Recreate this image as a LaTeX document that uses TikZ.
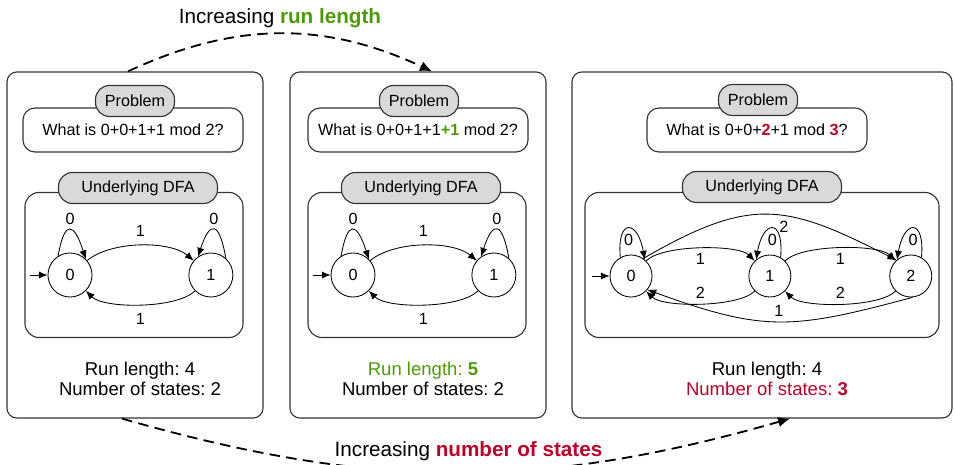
\documentclass[tikz,border=0pt]{standalone}
\usepackage{fontspec}
\setmainfont{Liberation Sans}
\usetikzlibrary{arrows.meta,positioning}
\definecolor{rungreen}{RGB}{78,154,6}
\definecolor{statered}{RGB}{190,0,40}
\frenchspacing

\begin{document}
\begin{tikzpicture}[x=0.025cm,y=-0.025cm,
  >={Latex[length=2.2mm,width=1.8mm]},
  panel/.style={draw=black!80,line width=0.8pt,rounded corners=0.25cm,minimum width=6.4cm,minimum height=8.65cm},
  probbox/.style={draw=black!80,line width=0.8pt,fill=white,rounded corners=0.3cm,minimum width=5.5cm,minimum height=1.1cm,font=\fontsize{11.5}{13}\selectfont},
  dfabox/.style={draw=black!80,line width=0.8pt,rounded corners=0.35cm,minimum width=5.45cm,minimum height=3.625cm},
  tag/.style={draw=black!80,line width=0.8pt,fill=black!15,rounded corners=0.35cm,minimum height=0.775cm,font=\fontsize{11.5}{13}\selectfont},
  state/.style={circle,draw,line width=0.6pt,minimum size=1.1cm,inner sep=0pt,font=\fontsize{11.5}{13}\selectfont},
  edge/.style={->,line width=0.6pt},
  lbl/.style={font=\fontsize{11.5}{13}\selectfont},
  flow/.style={->,>={Latex[length=3mm,width=2.6mm]},line width=1.3pt,dash pattern=on 7.5pt off 4.5pt},
  stats/.style={align=center,font=\fontsize{13.2}{14.2}\selectfont},
  head/.style={font=\fontsize{14.7}{16}\selectfont}]
\useasboundingbox (0,0) rectangle (954,465);

% the three cases
\node[panel] (p1) at (135,245) {};
\node[panel] (p2) at (418,245) {};
\node[panel,minimum width=9.5cm] (p3) at (762,245) {};

\node[probbox] (q1) at (133,130) {What is 0+0+1+1 mod 2?};
\node[tag,minimum width=1.975cm] (t1) at (135,101) {Problem};
\node[probbox] (q2) at (418,130) {What is 0+0+1+1\textbf{\color{rungreen}+1} mod 2?};
\node[tag,minimum width=1.975cm] (t2) at (419,101) {Problem};
\node[probbox] (q3) at (757,130) {What is 0+0+\textbf{\color{statered}2}+1 mod \textbf{\color{statered}3}?};
\node[tag,minimum width=1.975cm] (t3) at (758,100) {Problem};

% two-state DFA, twice
\foreach \dx/\id in {0/a,283/b}{
  \node[dfabox] (d\id) at (134+\dx,265) {};
  \node[tag,minimum width=3.975cm] (u\id) at (138+\dx,188) {Underlying DFA};
  \node[state] (\id0) at (70+\dx,275) {0};
  \node[state,right=2.4cm of \id0] (\id1) {1};
  \coordinate[left=0.45cm of \id0] (i\id);
  \draw[edge] (i\id) -- (\id0);
  \draw[edge] (\id0) to[bend left=40,looseness=.75] node[lbl,above=3pt]{1} (\id1);
  \draw[edge] (\id1) to[bend left=45,looseness=.6] node[lbl,below=3pt]{1} (\id0);
  \draw[edge] (\id0.122) to[out=80,in=108,looseness=3.5] node[lbl,above]{0} (\id0.45);
  \draw[edge] (\id1.48) to[out=100,in=72,looseness=3.5] node[lbl,above]{0} (\id1.125);
}

% three-state DFA
\node[dfabox,minimum width=8.85cm] (dc) at (762,265) {};
\node[tag,minimum width=3.975cm] (uc) at (762,187) {Underlying DFA};
\node[state,minimum size=1.05cm] (c0) at (631,276) {0};
\node[state,minimum size=1.05cm,right=2.4cm of c0] (c1) {1};
\node[state,minimum size=1.05cm,right=2.45cm of c1] (c2) {2};
\coordinate[left=0.45cm of c0] (ic);
\draw[edge] (ic) -- (c0);
\draw[edge] (c0) to[bend left=45,looseness=.55] node[lbl,below]{1} (c1);
\draw[edge] (c1) to[bend left=45,looseness=.55] node[lbl,above]{2} (c0);
\draw[edge] (c1) to[bend left=45,looseness=.55] node[lbl,below]{1} (c2);
\draw[edge] (c2) to[bend left=45,looseness=.55] node[lbl,above]{2} (c1);
\draw[edge] (c0.55) to[out=30,in=153,looseness=1.26] node[lbl,pos=.57,below]{2} (c2.132);
\draw[edge] (c2.-85) to[out=195,in=-20,looseness=1.2] node[lbl,above]{1} (c0.-40);
\draw[edge] (c0.120) to[out=95,in=100,looseness=4.2] node[lbl,below]{0} (c0.50);
\draw[edge] (c1.60) to[out=85,in=80,looseness=4.2] node[lbl,below]{0} (c1.130);
\draw[edge] (c2.60) to[out=85,in=80,looseness=4.2] node[lbl,below]{0} (c2.130);

\node[stats] (r1) at (140,379) {Run length: 4\\Number of states: 2};
\node[stats] (r2) at (423,379) {\textcolor{rungreen}{Run length: \textbf{5}}\\Number of states: 2};
\node[stats] (r3) at (767,379) {Run length: 4\\\textcolor{statered}{Number of states: \textbf{3}}};

% what changes between them
\draw[flow] ([xshift=-0.175cm]p1.north) to[bend left=25] node[head,above]{Increasing \textcolor{rungreen}{\textbf{run length}}} ([xshift=0.35cm]p2.north);
\draw[flow] ([xshift=-0.325cm]p1.south) to[bend right=16] node[head,pos=.52,above=4pt]{Increasing \textcolor{statered}{\textbf{number of states}}} ([xshift=0.7cm]p3.south);
\end{tikzpicture}
\end{document}
